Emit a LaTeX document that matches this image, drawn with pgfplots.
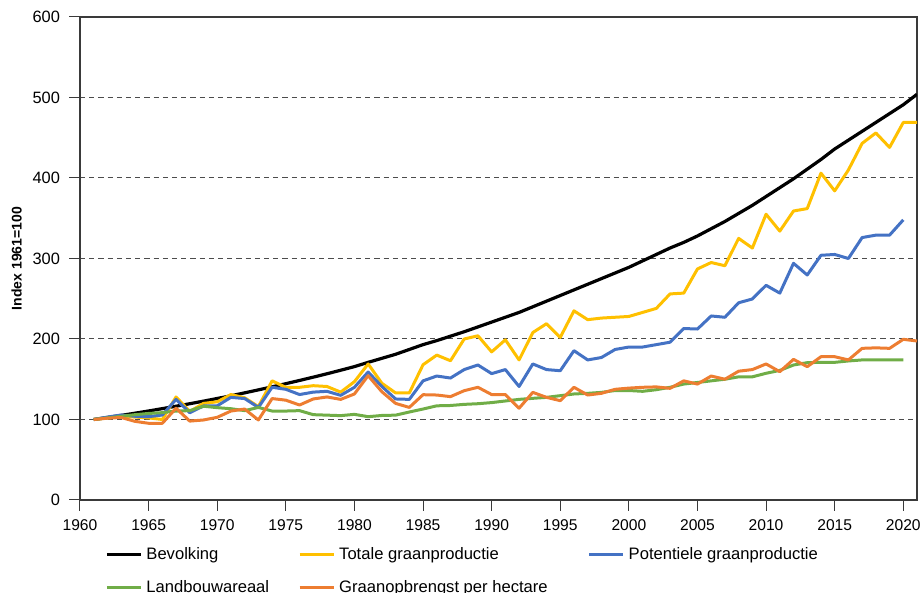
\documentclass[border=0pt]{standalone}
\usepackage{pgfplots}
\pgfplotsset{compat=1.18}
\usepackage{fontspec}
\setmainfont{Liberation Sans}
\definecolor{cYel}{HTML}{FFC000}
\definecolor{cBlu}{HTML}{4472C4}
\definecolor{cGrn}{HTML}{70AD47}
\definecolor{cOra}{HTML}{ED7D31}
\definecolor{cAx}{HTML}{3A3A3A}
\begin{document}
\begin{tikzpicture}
\begin{axis}[
  scale only axis,
  width=418.5pt, height=241.5pt,
  xmin=1960, xmax=2021, ymin=0, ymax=600,
  xtick={1960,1965,...,2020},
  ytick={0,100,...,600},
  tick pos=left, tick align=outside,
  major tick length=5.5pt,
  every tick/.style={cAx, line width=0.5pt},
  axis line style={cAx, line width=0.6pt},
  ymajorgrids,
  grid style={dash pattern=on 2.6pt off 2pt, line width=0.5pt, black!70},
  /pgf/number format/assume math mode=true,
  xticklabel style={font=\fontsize{7.8}{9}\selectfont, /pgf/number format/1000 sep={}, yshift=-1pt},
  yticklabel style={font=\fontsize{8.2}{9}\selectfont, xshift=-1pt},
  ylabel={\textbf{Index 1961=100}},
  ylabel style={font=\fontsize{7}{8}\selectfont, xshift=0pt, yshift=-1.5pt},
  legend columns=3,
  legend cell align=left,
  legend image code/.code={\draw[#1] (0pt,0pt) -- (17pt,0pt);},
  legend style={draw=none, fill=none, at={(0.0225,-0.0803)}, anchor=north west,
    font=\fontsize{8.3}{9.5}\selectfont, row sep=5pt,
    /tikz/column 2/.style={column sep=12.5pt},
    /tikz/column 4/.style={column sep=18pt}},
  every axis plot/.append style={line width=1.5pt, line join=round},
]
\addplot[black, line width=1.6pt] coordinates {
(1961,100)(1962,102.5)(1963,105.1)(1964,107.8)(1965,110.6)(1966,113.5)(1967,116.5)(1968,119.6)(1969,122.8)(1970,126.1)
(1971,129.5)(1972,133.1)(1973,136.8)(1974,140.6)(1975,144.5)(1976,148.5)(1977,152.6)(1978,156.8)(1979,161.2)(1980,165.7)
(1981,171)(1982,176)(1983,181)(1984,187)(1985,193)(1986,198)(1987,203.5)(1988,209)(1989,215)(1990,221)
(1991,227)(1992,233)(1993,240)(1994,247)(1995,254)(1996,261)(1997,268)(1998,275)(1999,282)(2000,289)
(2001,297)(2002,305)(2003,313)(2004,320)(2005,328)(2006,337)(2007,346)(2008,356)(2009,366)(2010,377)
(2011,388)(2012,399)(2013,411)(2014,423)(2015,436)(2016,447)(2017,458)(2018,469)(2019,480)(2020,491)(2021,504)
};
\addlegendentry{Bevolking}
\addplot[cYel] coordinates {
(1961,100)(1962,102)(1963,104)(1964,103)(1965,102)(1966,100)(1967,128)(1968,110)(1969,120)(1970,122)
(1971,131)(1972,127)(1973,116)(1974,148)(1975,140)(1976,140)(1977,142)(1978,141)(1979,134)(1980,147)
(1981,169)(1982,145)(1983,133)(1984,133)(1985,168)(1986,180)(1987,173)(1988,200)(1989,204)(1990,184)
(1991,199)(1992,174)(1993,208)(1994,219)(1995,202)(1996,235)(1997,224)(1998,226)(1999,227)(2000,228)
(2001,233)(2002,238)(2003,256)(2004,257)(2005,287)(2006,295)(2007,291)(2008,325)(2009,313)(2010,355)
(2011,334)(2012,359)(2013,362)(2014,406)(2015,384)(2016,410)(2017,443)(2018,456)(2019,438)(2020,469)(2021,469)
};
\addlegendentry{Totale graanproductie}
\addplot[cBlu] coordinates {
(1961,100)(1962,103)(1963,105.6)(1964,104)(1965,103.5)(1966,105.6)(1967,125)(1968,108.4)(1969,116.8)(1970,117)
(1971,127.5)(1972,126)(1973,115)(1974,140)(1975,137.5)(1976,131)(1977,134)(1978,135)(1979,130)(1980,140)
(1981,159)(1982,141)(1983,125.5)(1984,125)(1985,148)(1986,154)(1987,151.5)(1988,162)(1989,167.7)(1990,157)
(1991,162)(1992,141)(1993,169)(1994,162)(1995,160.6)(1996,185.5)(1997,174)(1998,177)(1999,187)(2000,190)
(2001,190)(2002,193)(2003,196)(2004,213)(2005,212.4)(2006,228.6)(2007,227)(2008,245)(2009,249.7)(2010,266.7)
(2011,257)(2012,294)(2013,279.5)(2014,304)(2015,305)(2016,300)(2017,326)(2018,329)(2019,329)(2020,348)
};
\addlegendentry{Potentiele graanproductie}
\addplot[cGrn] coordinates {
(1961,100)(1962,102)(1963,104)(1964,106)(1965,107.5)(1966,108.5)(1967,110.5)(1968,111)(1969,116.5)(1970,114.7)
(1971,113.4)(1972,111)(1973,115)(1974,110.5)(1975,110.5)(1976,111)(1977,106)(1978,105.4)(1979,104.8)(1980,106.4)
(1981,103.5)(1982,105)(1983,105.4)(1984,109.3)(1985,113)(1986,117)(1987,117.4)(1988,118.8)(1989,119.6)(1990,121)
(1991,123)(1992,125)(1993,126.3)(1994,127.5)(1995,129.6)(1996,131.7)(1997,132.5)(1998,133.7)(1999,136)(2000,136)
(2001,135)(2002,137)(2003,140)(2004,144)(2005,146)(2006,148)(2007,150)(2008,153)(2009,153)(2010,157.4)
(2011,161)(2012,167.7)(2013,170.6)(2014,171)(2015,171)(2016,172.7)(2017,174)(2018,174)(2019,174)(2020,174)
};
\addlegendentry{Landbouwareaal}
\addplot[cOra] coordinates {
(1961,100)(1962,101.6)(1963,102.5)(1964,97.7)(1965,95.3)(1966,95.3)(1967,114)(1968,98)(1969,99.4)(1970,102.7)
(1971,110.5)(1972,113)(1973,99.4)(1974,126)(1975,124)(1976,118)(1977,125.5)(1978,128)(1979,125)(1980,131.7)
(1981,154.4)(1982,134.5)(1983,120)(1984,115)(1985,130.8)(1986,130.4)(1987,128.4)(1988,135.8)(1989,140)(1990,131)
(1991,131)(1992,114)(1993,133.7)(1994,127.5)(1995,123.4)(1996,140)(1997,130.4)(1998,132.5)(1999,137.5)(2000,139)
(2001,140)(2002,140.5)(2003,138.7)(2004,148)(2005,144)(2006,154)(2007,150)(2008,160)(2009,162)(2010,169)
(2011,159.4)(2012,174.7)(2013,165.6)(2014,178)(2015,178)(2016,174)(2017,188.4)(2018,189)(2019,188.4)(2020,199.6)(2021,197.5)
};
\addlegendentry{Graanopbrengst per hectare}
\end{axis}
\pgfresetboundingbox
\path (-40pt,-46.5pt) rectangle (420.5pt,250pt);
\end{tikzpicture}
\end{document}
